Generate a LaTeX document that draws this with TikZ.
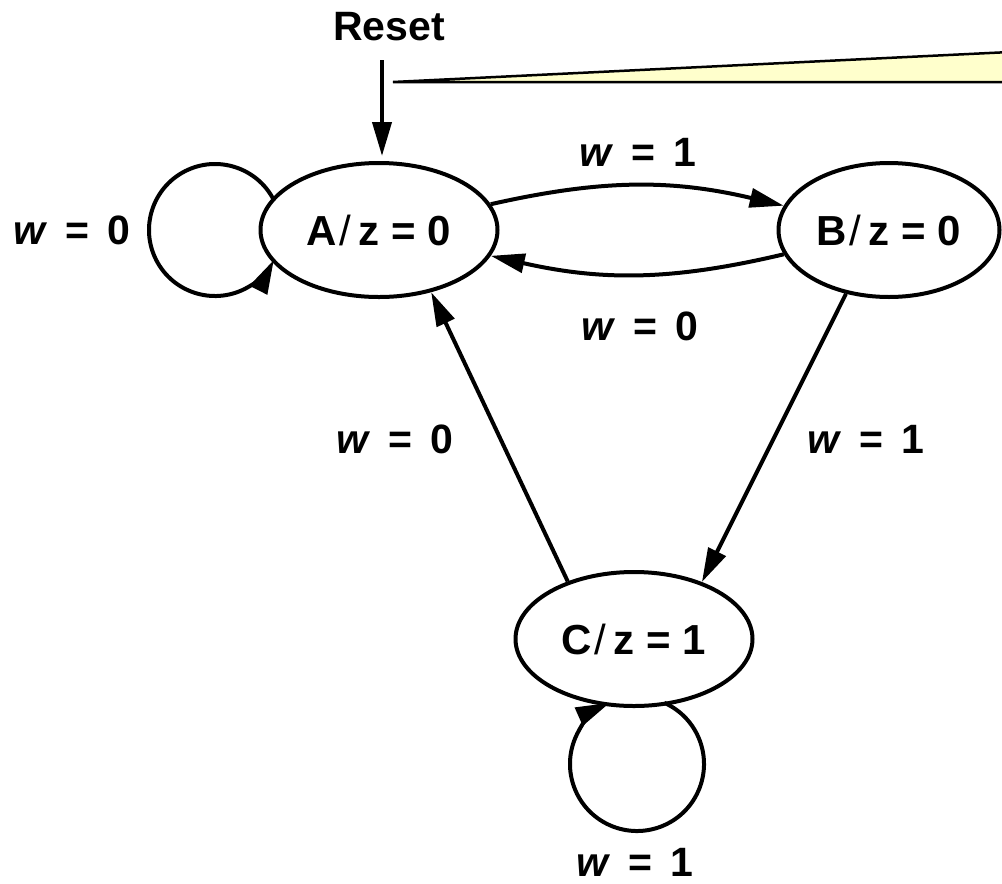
\documentclass[tikz,border=0pt]{standalone}
\usepackage{fontspec}
\setmainfont{Liberation Sans}
\usepackage{tikz}
\usetikzlibrary{shapes.geometric,arrows.meta}
\definecolor{notecolor}{HTML}{FFFFCC}
\newcommand{\weq}[1]{\textit{w}\hspace{.42em}=\hspace{.45em}#1}
\newcommand{\stout}[2]{#1\kern2pt{\mdseries/}\kern8pt z = #2}

\begin{document}
\begin{tikzpicture}[x=1pt,y=1pt,line width=4pt,
    state/.style={ellipse,draw,inner sep=0pt,minimum width=237pt,minimum height=134pt,
        font=\fontsize{42}{48}\selectfont\bfseries},
    lbl/.style={font=\fontsize{41}{46}\selectfont\bfseries},
    >={Triangle[length=34pt,width=19pt]}]
    \useasboundingbox (0,0) rectangle (1002,-884);

    \fill[notecolor] (393,-82) -- (1010,-52) -- (1010,-82) -- cycle;
    \draw[line width=2.5pt] (1010,-52) -- (393,-82) -- (1010,-82);

    \node[state] (A) at (379,-230) {\stout{A}{0}};
    \node[state,minimum width=221pt] (B) at (889,-230) {\stout{B}{0}};
    \node[state] (C) at (634,-639) {\stout{C}{1}};

    \node[lbl] (reset) at (389,-27) {Reset};
    \coordinate (rst) at (382,-60);
    \draw[->,shorten >=5pt] (rst) -- (rst |- A.north);

 \draw[->] (A) to[bend left=13] (B);
    \draw[->] (B) to[bend left=13] (A);
    \draw[->] (B.236) -- (C.40);
    \draw[->] (C.139) -- (A.310);

    \coordinate (Aloop) at (215,-230);
    \draw[->] (Aloop) ++(27:66) arc[start angle=27,end angle=333,radius=66];
    \coordinate (Cloop) at (637,-764);
 \draw[->] (Cloop) ++(66:67) arc[start angle=66,end angle=-246,radius=67];

    \node[lbl] (wA) at (72,-230) {\weq{0}};
    \node[lbl] (wAB) at (638,-152) {\weq{1}};
    \node[lbl] (wBA) at (640,-326) {\weq{0}};
    \node[lbl] (wCA) at (395,-439) {\weq{0}};
    \node[lbl] (wBC) at (866,-439) {\weq{1}};
    \node[lbl] (wC) at (635,-862) {\weq{1}};

  \end{tikzpicture}
\end{document}
